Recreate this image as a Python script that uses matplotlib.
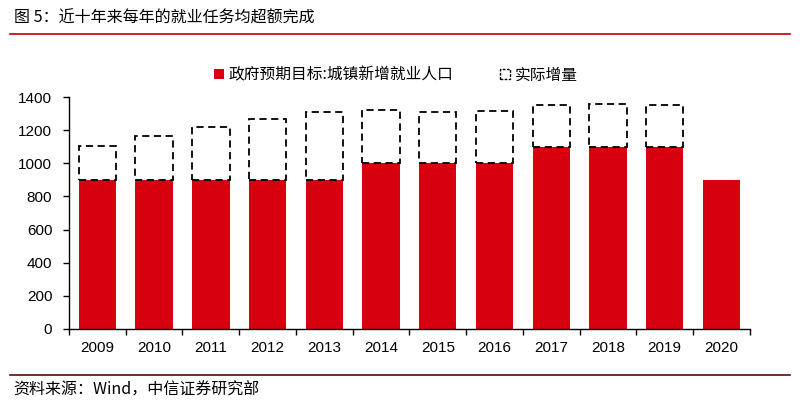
import matplotlib.pyplot as plt
from matplotlib.patches import Patch
from matplotlib.lines import Line2D

plt.rcParams['font.family'] = ['Noto Sans CJK SC', 'DejaVu Sans']

RED = "#D7000F"

years = ["2009", "2010", "2011", "2012", "2013", "2014", "2015", "2016",
         "2017", "2018", "2019", "2020"]
target = [900, 900, 900, 900, 900, 1000, 1000, 1000, 1100, 1100, 1100, 900]
actual = [1102, 1168, 1221, 1266, 1310, 1322, 1312, 1314, 1351, 1361, 1352, None]
extra = [a - t if a is not None else 0 for a, t in zip(actual, target)]

fig = plt.figure(figsize=(8, 4.09), dpi=100)
ax = fig.add_axes([0.08625, 0.1956, 0.851, 0.567])

x = list(range(len(years)))
W = 0.66
ax.bar(x, target, width=W, color=RED, edgecolor="none", zorder=2)
for xi, t, e in zip(x, target, extra):
    if e > 0:
        ax.bar(xi, e, bottom=t, width=W, facecolor="white", edgecolor="black",
               linestyle=(0, (4, 2.5)), linewidth=1.3, zorder=3)

ax.set_xlim(-0.5, len(years) - 0.5)
ax.set_ylim(0, 1400)
ax.set_yticks(range(0, 1401, 200))
ax.set_xticks(x)
ax.set_xticklabels(years)
ax.set_xticks([i + 0.5 for i in range(-1, len(years))], minor=True)
ax.tick_params(axis="x", which="major", length=0, pad=9, labelsize=11)
ax.tick_params(axis="x", which="minor", length=4, width=1, direction="out")
ax.tick_params(axis="y", length=4, width=1, direction="out", labelsize=11, pad=8)
for lab in ax.get_xticklabels() + ax.get_yticklabels():
    lab.set_family("Liberation Sans")
for s in ["top", "right"]:
    ax.spines[s].set_visible(False)
ax.spines["left"].set_linewidth(1)
ax.spines["bottom"].set_linewidth(1)

handles = [Patch(facecolor=RED, edgecolor="none"),
           Patch(facecolor="white", edgecolor="black", linestyle=(0, (2, 1)), linewidth=1)]
fig.legend(handles, ["政府预期目标:城镇新增就业人口", "实际增量"], loc="center",
           bbox_to_anchor=(0.495, 0.817), ncol=2, frameon=False, fontsize=11.3,
           handlelength=0.6, handleheight=0.6, handletextpad=0.3, columnspacing=3.0)

fig.text(0.017, 0.955, "图 5：近十年来每年的就业任务均超额完成", fontsize=11.5,
         ha="left", va="center", color="black")
fig.add_artist(Line2D([0.012, 0.988], [0.918, 0.918], color="#C00000", lw=1.2))
fig.add_artist(Line2D([0.012, 0.988], [0.083, 0.083], color="#5A0A0A", lw=1.2))
fig.text(0.017, 0.045, "资料来源：Wind，中信证券研究部", fontsize=11.5,
         ha="left", va="center", color="black")

fig.savefig("out.png", dpi=100)
